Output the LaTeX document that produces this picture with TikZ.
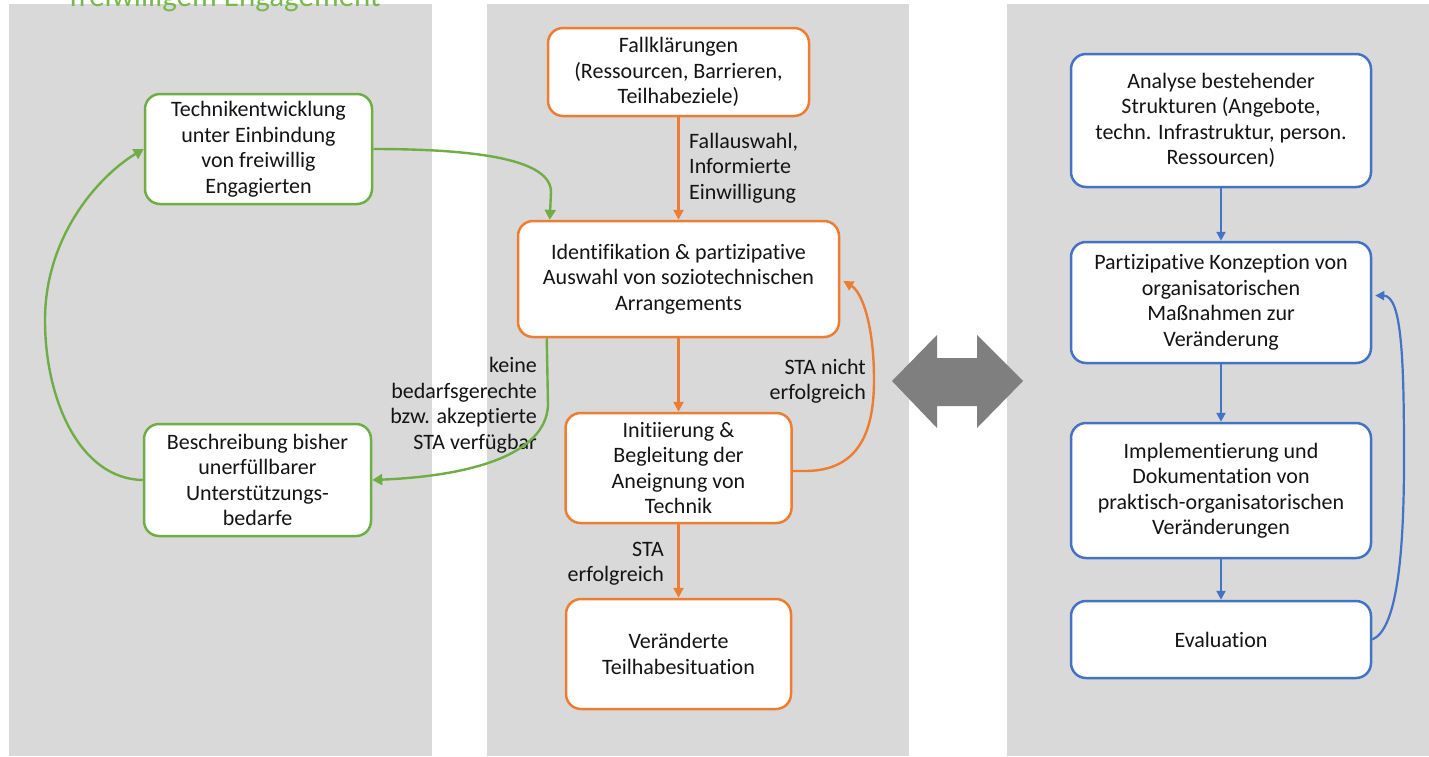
\documentclass[tikz,border=0pt]{standalone}
\usepackage{fontspec}
\setmainfont{Carlito}[Ligatures=NoCommon]
\usetikzlibrary{arrows.meta,calc}
\definecolor{panel}{RGB}{217,217,217}
\definecolor{grn}{RGB}{112,173,71}
\definecolor{org}{RGB}{237,125,49}
\definecolor{blu}{RGB}{68,114,196}
\definecolor{ttl}{RGB}{120,185,78}
\definecolor{txt}{RGB}{20,20,20}
\definecolor{dbl}{RGB}{127,127,127}
\begin{document}
\begin{tikzpicture}[x=1pt,y=-1pt,
  box/.style={draw, line width=2.5pt, fill=white, rounded corners=15pt, inner sep=0pt, align=center, text=txt, font=\fontsize{22}{25.5}\selectfont},
  gbox/.style={box, draw=grn},
  obox/.style={box, draw=org},
  bbox/.style={box, draw=blu},
  lbl/.style={inner sep=0pt, text=txt, font=\fontsize{22}{25.5}\selectfont},
  gconn/.style={line width=2.4pt, draw=grn, -{Triangle[length=10pt,width=11pt]}},
  oconn/.style={line width=2.4pt, draw=org, -{Triangle[length=10pt,width=10pt]}},
  bconn/.style={line width=2.2pt, draw=blu, -{Triangle[length=9pt,width=9pt]}},
  panelbg/.style={fill=panel}
]
\useasboundingbox (0,0) rectangle (1429,756);
\clip (0,0) rectangle (1429,756);
\fill[white] (0,0) rectangle (1429,756);
% panels
\fill[panelbg] (9,4) rectangle (432,756);
\fill[panelbg] (487,4) rectangle (909,756);
\fill[panelbg] (1007,4) rectangle (1429,756);
% title, cut off at the top edge as in the reference
\node[anchor=base, inner sep=0pt, text=ttl, font=\fontsize{31}{31}\selectfont] (title) at (225,6.5) {freiwilligem Engagement};

% green column
\node[gbox, minimum width=227pt, minimum height=110pt] (G1) at (258.5,149) {Technikentwicklung\\unter Einbindung\\von freiwillig\\Engagierten};
\node[gbox, minimum width=227pt, minimum height=112pt] (G2) at (257.5,480) {Beschreibung bisher\\unerfüllbarer\\Unterstützungs-\\bedarfe};

% orange column
\node[obox, minimum width=261pt, minimum height=88pt] (O1) at (678.5,72) {Fallklärungen\\(Ressourcen, Barrieren,\\Teilhabeziele)};
\node[obox, minimum width=321pt, minimum height=116pt] (O2) at (678.5,279) {Identifikation \& partizipative\\Auswahl von soziotechnischen\\Arrangements};
\node[obox, minimum width=226pt, minimum height=110pt] (O3) at (678.5,468) {Initiierung \&\\Begleitung der\\Aneignung von\\Technik};
\node[obox, minimum width=225pt, minimum height=110pt] (O4) at (678.5,654) {Veränderte\\Teilhabesituation};

% blue column
\node[bbox, minimum width=300pt, minimum height=133pt] (B1) at (1221,120.5) {Analyse bestehender\\Strukturen (Angebote,\\techn. Infrastruktur, person.\\Ressourcen)};
\node[bbox, minimum width=300pt, minimum height=121pt] (B2) at (1221,302.5) {Partizipative Konzeption von\\organisatorischen\\Maßnahmen zur\\Veränderung};
\node[bbox, minimum width=300pt, minimum height=135pt] (B3) at (1221,490.5) {Implementierung und\\Dokumentation von\\praktisch-organisatorischen\\Veränderungen};
\node[bbox, minimum width=300pt, minimum height=77pt] (B4) at (1221,639.5) {Evaluation};

% labels
\node[lbl, align=left, anchor=west] (lFall) at (689,168) {Fallauswahl,\\Informierte\\Einwilligung};
\node[lbl, align=right, anchor=east] (lKeine) at (537,405) {keine\\bedarfsgerechte\\bzw. akzeptierte\\STA verfügbar};
\node[lbl, align=right, anchor=east] (lNicht) at (866,381) {STA nicht\\erfolgreich};
\node[lbl, align=right, anchor=east] (lErf) at (664,563.5) {STA\\erfolgreich};

% double arrow (shape)
\fill[dbl] (892,381) -- (937,335) -- (937,358) -- (977,358) -- (977,335) -- (1023,381)
  -- (977,428) -- (977,406) -- (937,406) -- (937,428) -- cycle;

% green connectors
\coordinate (gIn) at ($(O2.north west)+(33,0)$);
\draw[gconn] (G1.east) .. controls (480,149) and (551,160) .. (551,192) -- (gIn);
\coordinate (gOut) at ($(O2.south west)+(30,0)$);
\draw[gconn] (gOut) -- (548,405) .. controls (546,455) and (470,476) .. (G2.east);
\draw[gconn] (G2.west) .. controls (80,479) and (45,400) .. (45,320) .. controls (45,235) and (100,175) .. (G1.west);

% orange connectors
\draw[oconn] (O1.south) -- (O2.north);
\draw[oconn] (O2.south) -- (O3.north);
\draw[oconn] (O3.south) -- (O4.north);
\coordinate (oOut) at ($(O3.east)+(0,3)$);
\coordinate (oIn) at ($(O2.east)+(3,2)$);
\draw[oconn] (oOut) -- (805,471) .. controls (860,471) and (874,430) .. (874,380) .. controls (874,325) and (862,292) .. (oIn);

% blue connectors
\draw[bconn] (B1.south) -- (B2.north);
\draw[bconn] (B2.south) -- (B3.north);
\draw[bconn] (B3.south) -- (B4.north);
\coordinate (bIn) at ($(B2.east)+(3,-7)$);
\draw[bconn] (B4.east) .. controls (1396,630) and (1404,560) .. (1404,460) .. controls (1404,360) and (1402,296) .. (bIn);
\end{tikzpicture}
\end{document}
